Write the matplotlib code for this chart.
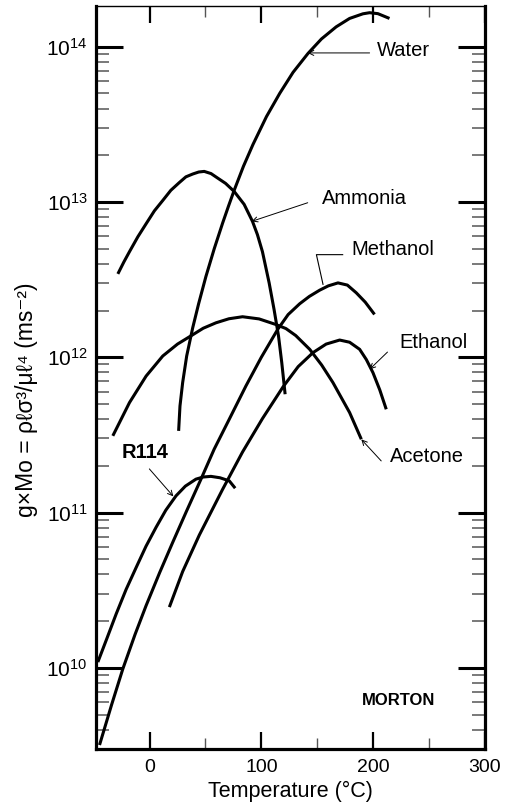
import numpy as np
import matplotlib
matplotlib.use("Agg")
import matplotlib.pyplot as plt
from matplotlib.ticker import MultipleLocator, LogLocator

plt.rcParams['font.family'] = ['Liberation Sans', 'DejaVu Sans']
plt.rcParams['mathtext.fontset'] = 'custom'
plt.rcParams['mathtext.rm'] = 'Liberation Sans'
plt.rcParams['mathtext.it'] = 'Liberation Sans:italic'
plt.rcParams['mathtext.bf'] = 'Liberation Sans:bold'

# temperature (C) and g*Mo (m s^-2)
water_t = [26, 27.2, 29.6, 33.2, 38.6, 43.9, 50.4, 57.9, 65.4, 70.7, 75.7, 84, 92.5,
           104.6, 116.5, 128.4, 141.8, 153.8, 167, 179, 190.9, 196.9, 204.3, 214.7]
water_mo = [3.357e11, 4.853e11, 6.871e11, 1.019e12, 1.549e12, 2.213e12, 3.311e12,
            5.012e12, 7.328e12, 9.441e12, 1.189e13, 1.698e13, 2.344e13, 3.548e13,
            5.012e13, 6.839e13, 9.057e13, 1.122e14, 1.343e14, 1.521e14, 1.629e14,
            1.656e14, 1.633e14, 1.521e14]

ammonia_t = [-28.4, -23, -18, -10.5, -3.1, 4.3, 11.8, 19, 26.6, 32.5, 38.6, 44, 48.9,
             55, 60.9, 68, 75.7, 84.6, 92.1, 96.5, 101, 107, 111.4, 115.4, 118.3, 121.3]
ammonia_mo = [3.443e12, 4.111e12, 4.786e12, 5.970e12, 7.244e12, 8.770e12, 1.023e13,
              1.189e13, 1.334e13, 1.452e13, 1.514e13, 1.560e13, 1.574e13, 1.524e13,
              1.426e13, 1.318e13, 1.169e13, 9.661e12, 7.499e12, 6.166e12, 4.786e12,
              3.013e12, 2.032e12, 1.368e12, 9.226e11, 5.781e11]

methanol_t = [-44.8, -34, -23.9, -13, -3.1, 9, 20.7, 33, 46, 57.8, 71.3, 86.2, 100,
              114.7, 124, 134.4, 143, 152.2, 160, 168.6, 177, 185, 193, 201.3]
methanol_mo = [3.184e9, 5.781e9, 9.863e9, 1.641e10, 2.518e10, 4.102e10, 6.427e10,
               1.019e11, 1.641e11, 2.559e11, 3.990e11, 6.531e11, 1.0e12, 1.514e12,
               1.884e12, 2.213e12, 2.466e12, 2.704e12, 2.884e12, 3.013e12, 2.917e12,
               2.600e12, 2.265e12, 1.888e12]

ethanol_t = [17.7, 29.6, 44.5, 65.4, 83.2, 101, 119.5, 133, 146.3, 158, 170.1, 179,
             188, 194, 199.9, 206, 211.8]
ethanol_mo = [2.460e10, 4.169e10, 7.161e10, 1.413e11, 2.455e11, 4.027e11, 6.457e11,
              8.710e11, 1.072e12, 1.216e12, 1.291e12, 1.250e12, 1.125e12, 9.661e11,
              7.962e11, 6.166e11, 4.624e11]

acetone_t = [-32.9, -18, -3.1, 11.8, 25, 38.6, 48, 59.4, 71, 83.2, 98, 113, 122, 130.8,
             143.3, 154, 164.1, 179, 189.5]
acetone_mo = [3.119e11, 5.105e11, 7.568e11, 1.019e12, 1.216e12, 1.396e12, 1.538e12,
              1.667e12, 1.770e12, 1.824e12, 1.766e12, 1.626e12, 1.531e12, 1.380e12,
              1.125e12, 8.913e11, 6.871e11, 4.406e11, 2.965e11]

r114_t = [-46.3, -38, -29.9, -21, -12.1, -3.2, 5.8, 14.5, 23.7, 32, 41.5, 48, 54.9,
          63, 71.3, 76.6]
r114_mo = [1.089e10, 1.560e10, 2.223e10, 3.199e10, 4.416e10, 6.067e10, 8.035e10,
           1.035e11, 1.282e11, 1.479e11, 1.641e11, 1.694e11, 1.710e11, 1.675e11,
           1.600e11, 1.435e11]

fig = plt.figure(figsize=(5.05, 8.06), dpi=100)
ax = fig.add_axes([0.190, 0.0707, 0.770, 0.9219])

for t, mo in [(water_t, water_mo), (ammonia_t, ammonia_mo), (methanol_t, methanol_mo),
              (ethanol_t, ethanol_mo), (acetone_t, acetone_mo), (r114_t, r114_mo)]:
    ax.plot(t, mo, color='black', lw=2.2, solid_joinstyle='round', solid_capstyle='butt')

ax.set_yscale('log')
ax.set_xlim(-48, 300)
ax.set_ylim(3.0e9, 1.83e14)

# labels with thin leader lines pointing to the curves
arrow = dict(arrowstyle='->', lw=0.7, color='black', mutation_scale=9, shrinkA=0, shrinkB=0)
ax.annotate('', xy=(141.5, 9.12e13), xytext=(196.9, 9.12e13), arrowprops=arrow)
ax.annotate('', xy=(91.3, 7.50e12), xytext=(141.5, 9.89e12), arrowprops=arrow)
ax.annotate('', xy=(196.9, 8.36e11), xytext=(212.9, 1.08e12), arrowprops=arrow)
ax.annotate('', xy=(189.5, 2.96e11), xytext=(207.3, 2.15e11), arrowprops=arrow)
ax.annotate('', xy=(21.3, 1.27e11), xytext=(-0.2, 1.91e11), arrowprops=arrow)
ax.plot([172.8, 149.3, 155.2], [4.58e12, 4.58e12, 2.95e12], color='black', lw=0.8)

fs = 14.5
ax.text(203.6, 9.52e13, 'Water', fontsize=fs, va='center')
ax.text(154.6, 1.05e13, 'Ammonia', fontsize=fs, va='center')
ax.text(180.5, 4.93e12, 'Methanol', fontsize=fs, va='center')
ax.text(223.7, 1.25e12, 'Ethanol', fontsize=fs, va='center')
ax.text(215.4, 2.28e11, 'Acetone', fontsize=fs, va='center')
ax.text(-25.4, 2.45e11, 'R114', fontsize=fs, va='center', fontweight='bold')
ax.text(189.7, 6.15e9, 'MORTON', fontsize=12, va='center', fontweight='bold')

ax.xaxis.set_major_locator(MultipleLocator(100))
ax.xaxis.set_minor_locator(MultipleLocator(50))
ax.yaxis.set_major_locator(LogLocator(base=10))
ax.yaxis.set_minor_locator(LogLocator(base=10, subs=np.arange(2, 10)))

ax.tick_params(axis='y', which='major', direction='in', length=19.5, width=2.2,
               left=True, right=True, labelsize=15, pad=6)
ax.tick_params(axis='y', which='minor', direction='in', length=9.5, width=1.1,
               color='#555555', left=True, right=True)
ax.tick_params(axis='x', which='major', direction='in', length=12, width=1.6,
               bottom=True, top=True, labelsize=14, pad=7)
ax.tick_params(axis='x', which='minor', direction='in', length=8, width=1.0,
               color='#555555', bottom=True, top=True)

for side in ['left', 'bottom', 'right']:
    ax.spines[side].set_linewidth(2.3)
ax.spines['top'].set_linewidth(1.0)

ax.set_xlabel('Temperature (°C)', fontsize=15.5, labelpad=4)
ax.set_ylabel('g×Mo = ρℓσ³/μℓ⁴ (ms⁻²)', fontsize=16.5)
ax.yaxis.set_label_coords(-0.15, 0.47)

fig.savefig('out.png', dpi=100)
